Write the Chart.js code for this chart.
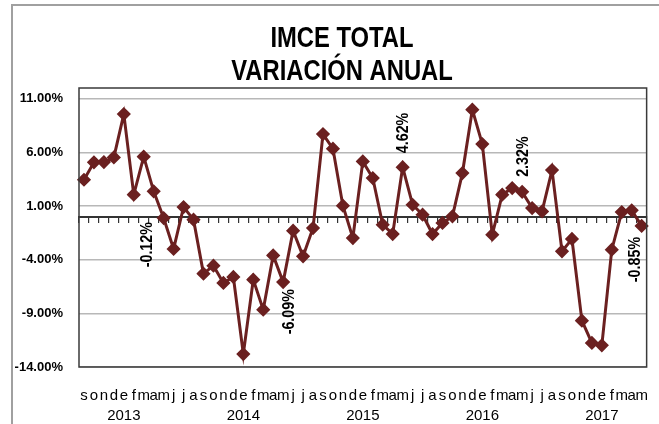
<!DOCTYPE html>
<html>
<head>
<meta charset="utf-8">
<script src="https://cdn.jsdelivr.net/npm/chart.js@4.4.1/dist/chart.umd.min.js"></script>
<style>
  html, body { margin: 0; padding: 0; background: #fff; }
  #wrap { width: 659px; height: 424px; }
</style>
</head>
<body>
<div id="wrap"><canvas id="chart"></canvas></div>
<script>
// meses sep 2012 - may 2017
const months = ['s','o','n','d',
  'e','f','m','a','m','j','j','a','s','o','n','d',
  'e','f','m','a','m','j','j','a','s','o','n','d',
  'e','f','m','a','m','j','j','a','s','o','n','d',
  'e','f','m','a','m','j','j','a','s','o','n','d',
  'e','f','m','a','m'];
const years = ['2013','2014','2015','2016','2017'];

const imce = [3.45, 5.07, 5.10, 5.53,
  9.57, 2.06, 5.60, 2.37, -0.12, -3.00, 0.91, -0.27, -5.30, -4.56, -6.17, -5.61,
  -12.79, -5.86, -8.66, -3.60, -6.09, -1.30, -3.69, -1.05, 7.71, 6.34, 1.03, -1.98,
  5.16, 3.61, -0.74, -1.61, 4.62, 1.12, 0.19, -1.61, -0.58, 0.04, 4.07, 9.98,
  6.78, -1.67, 2.06, 2.68, 2.32, 0.81, 0.50, 4.35, -3.22, -2.07, -9.68, -11.76,
  -11.98, -3.07, 0.44, 0.60, -0.85];

const yTicks = [-14, -9, -4, 1, 6, 11];
const labelled = [8, 20, 32, 44, 56];   // puntos con etiqueta (mayo)

// año debajo de cada "e"
let y = 0;
const labels = months.map(m => m === 'e' ? [m, years[y++]] : m);

const RED = '#6b2020';
const FONT = '"Liberation Sans", Arial, sans-serif';

// offsets de etiquetas: [dx, dy, abajo?]
const labelPos = {
  8: [-16, 4, true],
  20: [6, 7, true],
  32: [1, -14, false],
  44: [1, -15, false],
  56: [-6, 11, true]
};

const decor = {
  id: 'decor',
  beforeDraw(chart) {
    const ctx = chart.ctx;
    ctx.save();
    ctx.strokeStyle = '#a0a0a0';
    ctx.lineWidth = 2;
    ctx.beginPath();
    ctx.moveTo(12, 424);
    ctx.lineTo(12, 5);
    ctx.lineTo(659, 5);
    ctx.stroke();

    // titulo, letra estrecha
    ctx.fillStyle = '#000';
    ctx.font = 'bold 29px ' + FONT;
    ctx.textAlign = 'center';
    ctx.textBaseline = 'alphabetic';
    ctx.translate(342, 0);
    ctx.scale(0.82, 1);
    ctx.fillText('IMCE TOTAL', 0, 47);
    ctx.fillText('VARIACIÓN ANUAL', 0, 80);
    ctx.restore();
  },
  afterDatasetsDraw(chart) {
    const ctx = chart.ctx;
    const a = chart.chartArea;
    ctx.save();
    ctx.strokeStyle = '#3a3a3a';
    ctx.lineWidth = 1.5;
    ctx.strokeRect(a.left, a.top, a.right - a.left, a.bottom - a.top);

    const meta = chart.getDatasetMeta(0);
    ctx.fillStyle = '#000';
    ctx.font = 'bold 17px ' + FONT;
    ctx.textBaseline = 'middle';
    labelled.forEach(i => {
      const p = meta.data[i];
      const [dx, dy, below] = labelPos[i];
      ctx.save();
      ctx.translate(p.x + dx, p.y + dy);
      ctx.rotate(-Math.PI / 2);
      ctx.scale(0.84, 1);
      ctx.textAlign = below ? 'right' : 'left';
      ctx.fillText(imce[i].toFixed(2) + '%', 0, 0);
      ctx.restore();
    });
    ctx.restore();
  }
};

new Chart(document.getElementById('chart'), {
  type: 'line',
  data: {
    labels: labels,
    datasets: [{
      data: imce,
      borderColor: RED,
      backgroundColor: RED,
      borderWidth: 3,
      pointStyle: 'rectRot',
      pointRadius: 5,
      pointHoverRadius: 5,
      tension: 0
    }]
  },
  options: {
    responsive: true,
    maintainAspectRatio: false,
    animation: false,
    layout: { padding: { top: 88, right: 11, left: 0, bottom: 0 } },
    plugins: { legend: { display: false }, tooltip: { enabled: false }, title: { display: false } },
    scales: {
      x: {
        type: 'category',
        offset: true,
        grid: { display: false },
        border: { display: false },
        ticks: {
          autoSkip: false, maxRotation: 0, minRotation: 0,
          padding: 11, color: '#000',
          font: { family: FONT, size: 15, lineHeight: 1.33 }
        },
        afterFit: s => { s.height = 57; }
      },
      x0: {
        type: 'category',
        axis: 'x',
        position: { y: 0 },
        offset: true,
        grid: { drawOnChartArea: false, drawTicks: true, tickLength: 5, offset: true, color: '#333', lineWidth: 1.2 },
        border: { display: true, color: '#333', width: 2 },
        ticks: { display: false }
      },
      y: {
        min: -14,
        max: 12,
        afterBuildTicks: s => { s.ticks = yTicks.map(v => ({ value: v })); },
        grid: { color: '#b8b8b8', lineWidth: 1.5, drawTicks: false },
        border: { display: false },
        ticks: {
          padding: 16, color: '#000',
          font: { family: FONT, size: 13, weight: 'bold' },
          callback: v => v.toFixed(2) + '%'
        },
        afterFit: s => { s.width = 79; }
      }
    }
  },
  plugins: [decor]
});
</script>
</body>
</html>
